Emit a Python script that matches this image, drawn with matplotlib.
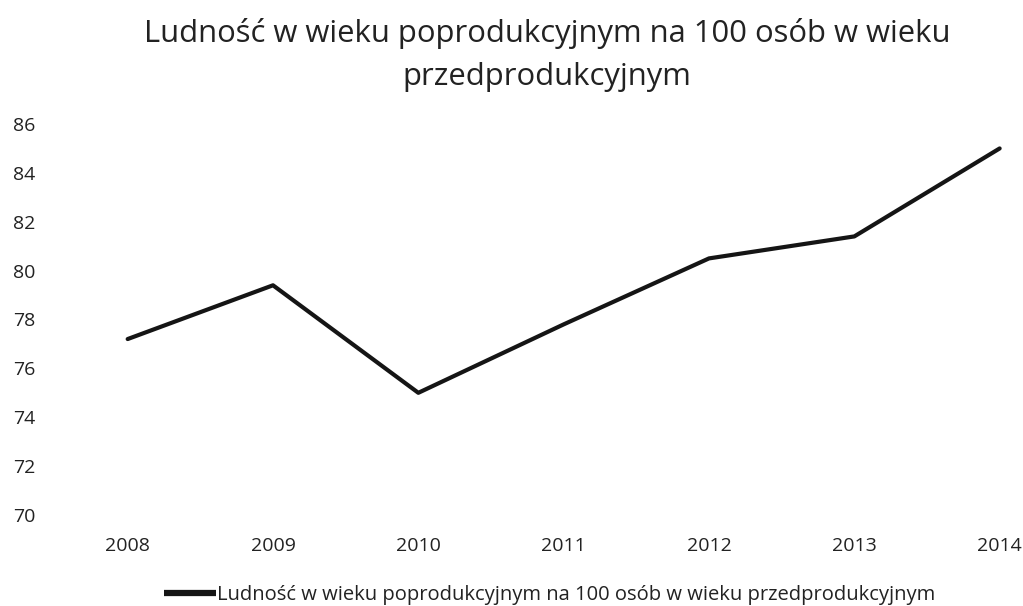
import numpy as np
import matplotlib
matplotlib.use("Agg")
import matplotlib.pyplot as plt

plt.rcParams['font.family'] = ['Open Sans', 'DejaVu Sans']

years = ['2008', '2009', '2010', '2011', '2012', '2013', '2014']
values = [77.2, 79.4, 75.0, 77.8, 80.5, 81.4, 85.0]
series_name = 'Ludność w wieku poprodukcyjnym na 100 osób w wieku przedprodukcyjnym'
title = 'Ludność w wieku poprodukcyjnym na 100 osób w wieku\nprzedprodukcyjnym'
y_ticks = list(range(70, 87, 2))

fig = plt.figure(figsize=(10.23, 6.06), dpi=100)
ax = fig.add_axes([55/1023, 1 - 515/606, (1020 - 55)/1023, (515 - 124)/606])

xs = np.arange(len(years))
ax.plot(xs, values, color='#151515', linewidth=3, solid_capstyle='round',
        solid_joinstyle='round', label=series_name)

ax.set_xlim(-0.5, 6.14)
ax.set_ylim(70, 86)
ax.set_xticks(xs)
ax.set_xticklabels(years)
ax.set_yticks(y_ticks)
ax.tick_params(axis='both', length=0, labelsize=14, colors='#222222')
ax.tick_params(axis='x', pad=16)
ax.tick_params(axis='y', pad=30)
for lab in ax.get_yticklabels():
    lab.set_horizontalalignment('left')
for s in ax.spines.values():
    s.set_visible(False)

fig.text(0.535, 1 - 55/606, title, ha='center', va='center', fontsize=22.3,
         color='#222222', linespacing=1.6)

leg = fig.legend(loc='center', bbox_to_anchor=(0.537, 1 - 595/606), frameon=False,
                 fontsize=14.5, handlelength=2.6, handletextpad=0.05,
                 labelcolor='#222222')
leg.get_lines()[0].set_linewidth(4.5)
leg.get_lines()[0].set_solid_capstyle('butt')

fig.savefig('out.png', dpi=100)
